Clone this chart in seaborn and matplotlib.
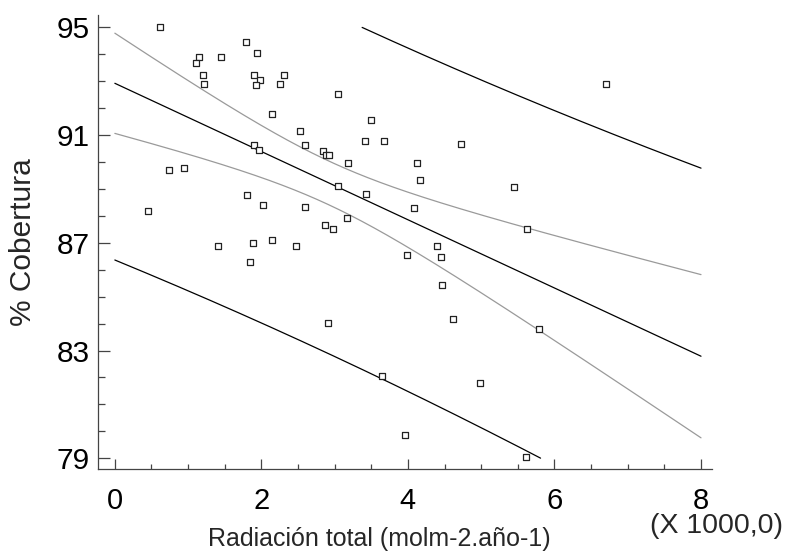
import numpy as np
import pandas as pd
import matplotlib
matplotlib.use("Agg")
import matplotlib.pyplot as plt
import seaborn as sns
from matplotlib.ticker import MultipleLocator

# Data (x in thousands of mol m-2 año-1, y = % cobertura)
radiacion = [0.62, 1.79, 1.94, 1.15, 1.45, 1.11, 1.20, 1.90, 2.31, 1.98,
             1.22, 1.92, 2.26, 3.05, 2.15, 2.53, 2.59, 1.90, 1.97, 2.84,
             2.88, 2.92, 3.18, 0.74, 0.94, 3.04, 1.81, 2.02, 2.60, 0.45,
             3.17, 2.87, 2.98, 1.41, 1.88, 2.14, 2.47, 1.85, 2.91, 6.70,
             3.49, 3.42, 3.67, 4.72, 4.13, 4.17, 5.45, 3.43, 4.08, 5.62,
             4.40, 3.99, 4.45, 4.46, 4.61, 5.79, 3.65, 4.98, 3.96, 5.61]
cobertura = [95.00, 94.45, 94.06, 93.91, 93.91, 93.66, 93.25, 93.25, 93.25, 93.04,
             92.91, 92.87, 92.91, 92.53, 91.77, 91.16, 90.62, 90.62, 90.45, 90.41,
             90.26, 90.26, 89.97, 89.72, 89.79, 89.11, 88.78, 88.42, 88.32, 88.17,
             87.91, 87.66, 87.51, 86.87, 87.00, 87.12, 86.87, 86.29, 84.02, 92.90,
             91.57, 90.77, 90.77, 90.66, 89.97, 89.32, 89.07, 88.82, 88.29, 87.51,
             86.90, 86.55, 86.47, 85.43, 84.17, 83.80, 82.06, 81.79, 79.87, 79.05]

x_ticks = [0, 2, 4, 6, 8]
y_ticks = [79, 83, 87, 91, 95]

# ---- OLS fit with confidence and prediction limits (95%) ----
x = np.asarray(radiacion)
y = np.asarray(cobertura)
n = len(x)
b1, b0 = np.polyfit(x, y, 1)
resid = y - (b0 + b1 * x)
s = np.sqrt(np.sum(resid ** 2) / (n - 2))
t = 2.0017  # t(0.975, 58)
sxx = np.sum((x - x.mean()) ** 2)
xg = np.linspace(0, 8, 1601)
fit = b0 + b1 * xg
se_m = s * np.sqrt(1 / n + (xg - x.mean()) ** 2 / sxx)
se_p = s * np.sqrt(1 + 1 / n + (xg - x.mean()) ** 2 / sxx)

def clip(v):
    v = v.copy()
    v[(v < 79) | (v > 95)] = np.nan
    return v

curves = {
    "fit": (clip(fit), "#000000"),
    "conf_up": (clip(fit + t * se_m), "#9a9a9a"),
    "conf_lo": (clip(fit - t * se_m), "#9a9a9a"),
    "pred_up": (clip(fit + t * se_p), "#000000"),
    "pred_lo": (clip(fit - t * se_p), "#000000"),
}

sns.set_style("ticks")
plt.rcParams["font.family"] = ["Liberation Sans", "DejaVu Sans"]

fig = plt.figure(figsize=(7.91, 5.57), dpi=100)
ax = fig.add_axes([98 / 791, 1 - 469 / 557, (712 - 98) / 791, (469 - 15) / 557])

for name, (vals, col) in curves.items():
    df = pd.DataFrame({"x": xg, "y": vals})
    sns.lineplot(data=df, x="x", y="y", ax=ax, color=col, linewidth=0.9,
                 sort=False, estimator=None, errorbar=None)

sns.scatterplot(x=radiacion, y=cobertura, ax=ax, marker="s", s=14,
                facecolor="white", edgecolor="#222222", linewidth=0.9, zorder=5)

ax.set_xlim(-0.23, 8.15)
ax.set_ylim(78.6, 95.46)
ax.set_xticks(x_ticks)
ax.set_yticks(y_ticks)
ax.xaxis.set_minor_locator(MultipleLocator(0.5))
ax.yaxis.set_minor_locator(MultipleLocator(1))
ax.tick_params(axis="both", which="both", direction="in", colors="#444444",
               labelcolor="black", width=0.9)
ax.tick_params(axis="x", which="major", length=7, labelsize=21, pad=13)
ax.tick_params(axis="x", which="minor", length=3.5)
ax.tick_params(axis="y", which="major", length=8.5, labelsize=21.5, pad=6)
ax.tick_params(axis="y", which="minor", length=5)
for sp in ["top", "right"]:
    ax.spines[sp].set_visible(False)
for sp in ["left", "bottom"]:
    ax.spines[sp].set_color("#444444")
    ax.spines[sp].set_linewidth(0.9)

ax.set_xlabel("Radiación total (molm-2.año-1)", fontsize=18)
ax.xaxis.label.set_va("center")
ax.xaxis.set_label_coords((379 - 98) / 614, (469 - 539) / 454)
ax.set_ylabel("% Cobertura", fontsize=21.5)
ax.yaxis.label.set_va("center")
ax.yaxis.set_label_coords((23 - 98) / 614, 0.5)
fig.text(716 / 791, 1 - 526 / 557, "(X 1000,0)", fontsize=20.5,
         ha="center", va="center")

fig.savefig("out.png", dpi=100)
